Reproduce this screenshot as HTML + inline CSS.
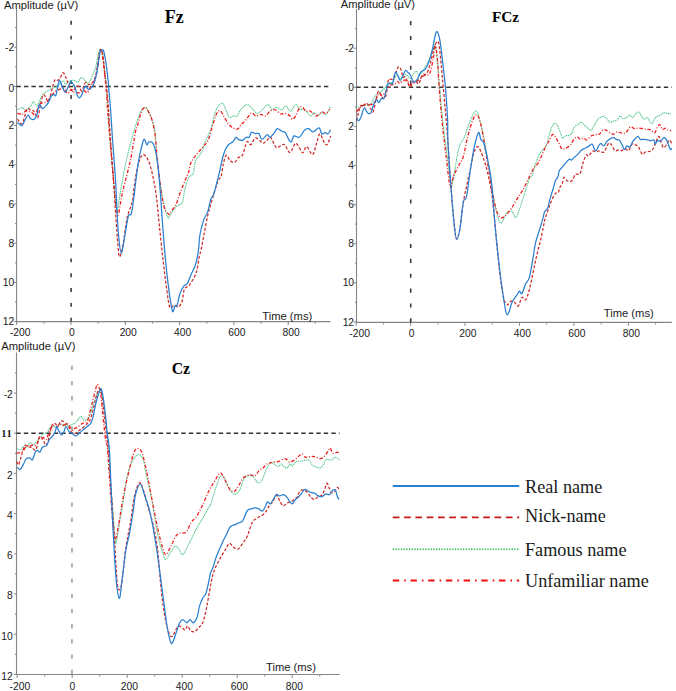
<!DOCTYPE html>
<html><head><meta charset="utf-8"><style>
html,body{margin:0;padding:0;background:#fff;width:676px;height:691px;overflow:hidden}
svg{display:block}
.tl{font-family:"Liberation Sans",sans-serif;font-size:10.3px;fill:#1a1a1a}
.amp{font-family:"Liberation Sans",sans-serif;font-size:11.2px;fill:#1a1a1a}
.ttl{font-family:"Liberation Serif",serif;font-weight:bold;fill:#000}
.leg{font-family:"Liberation Serif",serif;font-size:18.2px;fill:#1a1a1a}
</style></head><body>
<svg width="676" height="691" viewBox="0 0 676 691">
<rect width="676" height="691" fill="#fff"/>
<path d="M16.6 8.5V321.6H330.5" fill="none" stroke="#858585" stroke-width="1.1"/>
<path d="M15 27.6H16.6M14 47.2H16.6M15 66.8H16.6M14 86.4H16.6M15 106H16.6M14 125.6H16.6M15 145.2H16.6M14 164.8H16.6M15 184.4H16.6M14 204H16.6M15 223.6H16.6M14 243.2H16.6M15 262.8H16.6M14 282.4H16.6M15 302H16.6M14 321.6H16.6M16.7 321.6V325M43.85 321.6V323.6M71 321.6V325M98.15 321.6V323.6M125.3 321.6V325M152.45 321.6V323.6M179.6 321.6V325M206.75 321.6V323.6M233.9 321.6V325M261.05 321.6V323.6M288.2 321.6V325M315.35 321.6V323.6" stroke="#858585" stroke-width="1"/>
<text x="14.2" y="50.8" text-anchor="end" class="tl">-2</text>
<text x="14.2" y="92" text-anchor="end" class="tl">0</text>
<text x="14.2" y="129.2" text-anchor="end" class="tl">2</text>
<text x="14.2" y="168.4" text-anchor="end" class="tl">4</text>
<text x="14.2" y="207.6" text-anchor="end" class="tl">6</text>
<text x="14.2" y="246.8" text-anchor="end" class="tl">8</text>
<text x="14.2" y="286" text-anchor="end" class="tl">10</text>
<text x="14.2" y="325.2" text-anchor="end" class="tl">12</text>
<text x="20.2" y="336.4" text-anchor="middle" class="tl">-200</text>
<text x="71.97" y="336.4" text-anchor="middle" class="tl">0</text>
<text x="128.22" y="336.4" text-anchor="middle" class="tl">200</text>
<text x="182.52" y="336.4" text-anchor="middle" class="tl">400</text>
<text x="236.82" y="336.4" text-anchor="middle" class="tl">600</text>
<text x="291.12" y="336.4" text-anchor="middle" class="tl">800</text>
<path d="M16.4 86.4H330.5" stroke="#333" stroke-width="1.5" stroke-dasharray="4.4 3.1"/>
<path d="M71.1 20.8V321.6" stroke="#3a3a3a" stroke-width="1.6" stroke-dasharray="3.9 10.95"/>
<path d="M17.5 109.5C17.77 109.45 18.33 109.52 19.1 109.2C19.87 108.88 21.1 107.52 22.1 107.6C23.1 107.68 24 109.62 25.1 109.7C26.2 109.78 27.68 108.78 28.7 108.1C29.72 107.42 30.37 106.68 31.2 105.6C32.03 104.52 32.77 101.6 33.7 101.6C34.63 101.6 35.87 105.6 36.8 105.6C37.73 105.6 38.37 103.37 39.3 101.6C40.23 99.83 41.38 96.53 42.4 95C43.42 93.47 44.4 93.17 45.4 92.4C46.4 91.63 47.55 90.9 48.4 90.4C49.25 89.9 49.57 89.9 50.5 89.4C51.43 88.9 52.82 88 54 87.4C55.18 86.8 56.5 86.48 57.6 85.8C58.7 85.12 59.6 84.13 60.6 83.3C61.6 82.47 62.75 80.63 63.6 80.8C64.45 80.97 64.93 84.13 65.7 84.3C66.47 84.47 67.18 82.47 68.2 81.8C69.22 81.13 70.73 80.52 71.8 80.3C72.87 80.08 73.62 80.2 74.6 80.5C75.58 80.8 76.6 82.6 77.7 82.1C78.8 81.6 80.1 77.93 81.2 77.5C82.3 77.07 83.12 78.57 84.3 79.5C85.48 80.43 86.95 83.77 88.3 83.1C89.65 82.43 91.13 78.28 92.4 75.5C93.67 72.72 94.98 69.78 95.9 66.4C96.82 63.02 97.22 58 97.9 55.2C98.58 52.4 99.32 50.28 100 49.6C100.68 48.92 101.42 49.32 102 51.1C102.58 52.88 103 56.58 103.5 60.3C104 64.02 104.48 69.02 105 73.4C105.52 77.78 106.08 80.5 106.6 86.6C107.12 92.7 107.53 101.1 108.1 110C108.67 118.9 109.18 129.17 110 140C110.82 150.83 112.08 165 113 175C113.92 185 114.8 193.98 115.5 200C116.2 206.02 116.53 211.43 117.2 211.1C117.87 210.77 118.65 203.07 119.5 198C120.35 192.93 121.17 186.95 122.3 180.7C123.43 174.45 124.62 167.92 126.3 160.5C127.98 153.08 130.55 142.95 132.4 136.2C134.25 129.45 135.97 124.2 137.4 120C138.83 115.8 139.73 113.12 141 111C142.27 108.88 143.67 107.13 145 107.3C146.33 107.47 147.83 109.88 149 112C150.17 114.12 151 116.67 152 120C153 123.33 154.15 125.4 155 132C155.85 138.6 156 149.58 157.1 159.6C158.2 169.62 160.23 183.72 161.6 192.1C162.97 200.48 164.2 205.58 165.3 209.9C166.4 214.22 167.42 217.12 168.2 218C168.98 218.88 168.73 217.02 170 215.2C171.27 213.38 173.77 209.22 175.8 207.1C177.83 204.98 180.75 205.2 182.2 202.5C183.65 199.8 183.63 194.57 184.5 190.9C185.37 187.23 186.43 183 187.4 180.5C188.37 178 189.35 177.05 190.3 175.9C191.25 174.75 192.43 175.15 193.1 173.6C193.77 172.05 193.9 168.73 194.3 166.6C194.7 164.47 194.73 162.53 195.5 160.8C196.27 159.07 197.75 157.93 198.9 156.2C200.05 154.47 201.53 152.33 202.4 150.4C203.27 148.47 203.52 146.33 204.1 144.6C204.68 142.87 204.8 142.43 205.9 140C207 137.57 209.28 134.15 210.7 130C212.12 125.85 213.17 119.05 214.4 115.1C215.63 111.15 216.75 108.27 218.1 106.3C219.45 104.33 221.15 102.57 222.5 103.3C223.85 104.03 225.08 108.35 226.2 110.7C227.32 113.05 228.08 116.53 229.2 117.4C230.32 118.27 231.55 116.15 232.9 115.9C234.25 115.65 236.07 116.88 237.3 115.9C238.53 114.92 238.82 111.85 240.3 110C241.78 108.15 244.47 105.3 246.2 104.8C247.93 104.3 248.85 105.58 250.7 107C252.55 108.42 255.2 113.03 257.3 113.3C259.4 113.57 261.52 110.05 263.3 108.6C265.08 107.15 266.55 104.48 268 104.6C269.45 104.72 270.57 108.85 272 109.3C273.43 109.75 275.05 107.18 276.6 107.3C278.15 107.42 279.73 110.22 281.3 110C282.87 109.78 284.45 105.78 286 106C287.55 106.22 289.05 111.53 290.6 111.3C292.15 111.07 294.08 105.38 295.3 104.6C296.52 103.82 297.02 105.7 297.9 106.6C298.78 107.5 299.6 109.67 300.6 110C301.6 110.33 302.23 107.6 303.9 108.6C305.57 109.6 308.93 115.33 310.6 116C312.27 116.67 312.68 112.72 313.9 112.6C315.12 112.48 316.57 115.3 317.9 115.3C319.23 115.3 320.57 112.72 321.9 112.6C323.23 112.48 324.45 115.6 325.9 114.6C327.35 113.6 329.82 107.93 330.6 106.6" fill="none" stroke="#4cc487" stroke-width="1.05" stroke-dasharray="1.3 0.7" stroke-linejoin="round"/>
<path d="M17.5 113.5C17.77 113.53 18.33 113.5 19.1 113.7C19.87 113.9 20.93 115.2 22.1 114.7C23.27 114.2 24.83 111.2 26.1 110.7C27.37 110.2 28.68 111.37 29.7 111.7C30.72 112.03 31.27 112.2 32.2 112.7C33.13 113.2 34.12 116.05 35.3 114.7C36.48 113.35 37.95 106.62 39.3 104.6C40.65 102.58 42.05 103.1 43.4 102.6C44.75 102.1 46.13 102.78 47.4 101.6C48.67 100.42 49.98 96.87 51 95.5C52.02 94.13 52.57 94.25 53.5 93.4C54.43 92.55 55.58 91.07 56.6 90.4C57.62 89.73 58.43 89.73 59.6 89.4C60.77 89.07 62.25 87.73 63.6 88.4C64.95 89.07 66.43 93.23 67.7 93.4C68.97 93.57 70.13 89.6 71.2 89.4C72.27 89.2 72.6 91.65 74.1 92.2C75.6 92.75 78.5 92.95 80.2 92.7C81.9 92.45 83.12 90.7 84.3 90.7C85.48 90.7 86.12 93.72 87.3 92.7C88.48 91.68 90.05 86.97 91.4 84.6C92.75 82.23 94.23 82.22 95.4 78.5C96.57 74.78 97.55 67.03 98.4 62.3C99.25 57.57 99.82 50.95 100.5 50.1C101.18 49.25 101.83 53.32 102.5 57.2C103.17 61.08 103.92 68.33 104.5 73.4C105.08 78.47 105.48 81.5 106 87.6C106.52 93.7 106.93 101.27 107.6 110C108.27 118.73 109.02 128.33 110 140C110.98 151.67 112.5 169.17 113.5 180C114.5 190.83 115.22 199.15 116 205C116.78 210.85 117.45 215.43 118.2 215.1C118.95 214.77 119.65 207.38 120.5 203C121.35 198.62 121.65 195.88 123.3 188.8C124.95 181.72 128.38 169.95 130.4 160.5C132.42 151.05 134.23 137.83 135.4 132.1C136.57 126.37 136.47 129.28 137.4 126.1C138.33 122.92 139.73 116.13 141 113C142.27 109.87 143.67 107.3 145 107.3C146.33 107.3 147.83 110.88 149 113C150.17 115.12 151 116.38 152 120C153 123.62 154.08 128.03 155 134.7C155.92 141.37 156.5 150.78 157.5 160C158.5 169.22 159.83 181.93 161 190C162.17 198.07 163.17 204.35 164.5 208.4C165.83 212.45 168.08 213.55 169 214.3C169.92 215.05 168.87 214.48 170 212.9C171.13 211.32 174.07 208.27 175.8 204.8C177.53 201.33 178.87 196.15 180.4 192.1C181.93 188.05 183.65 183.78 185 180.5C186.35 177.22 187.53 175.3 188.5 172.4C189.47 169.5 189.83 165.6 190.8 163.1C191.77 160.6 192.95 159.32 194.3 157.4C195.65 155.48 197.45 153.35 198.9 151.6C200.35 149.85 201.45 148.83 203 146.9C204.55 144.97 206.67 143.32 208.2 140C209.73 136.68 210.8 131.38 212.2 127C213.6 122.62 215.25 116.42 216.6 113.7C217.95 110.98 219.07 110.22 220.3 110.7C221.53 111.18 222.63 114.38 224 116.6C225.37 118.82 227.02 122.15 228.5 124C229.98 125.85 231.43 126.83 232.9 127.7C234.37 128.57 235.95 129.68 237.3 129.2C238.65 128.72 239.52 126.4 241 124.8C242.48 123.2 244.47 121.58 246.2 119.6C247.93 117.62 249.8 113.52 251.4 112.9C253 112.28 254.2 115.65 255.8 115.9C257.4 116.15 259.4 114.4 261 114.4C262.6 114.4 263.8 116.52 265.4 115.9C267 115.28 268.87 111.68 270.6 110.7C272.33 109.72 274.13 109.45 275.8 110C277.47 110.55 279.02 113.45 280.6 114C282.18 114.55 283.73 112.97 285.3 113.3C286.87 113.63 288.78 115 290 116C291.22 117 291.62 119.42 292.6 119.3C293.58 119.18 294.78 117.18 295.9 115.3C297.02 113.42 298.18 109.33 299.3 108C300.42 106.67 301.5 106.75 302.6 107.3C303.7 107.85 304.78 110.75 305.9 111.3C307.02 111.85 308.08 110.27 309.3 110.6C310.52 110.93 311.98 112.4 313.2 113.3C314.42 114.2 315.15 116.22 316.6 116C318.05 115.78 320.35 112.45 321.9 112C323.45 111.55 324.57 113.75 325.9 113.3C327.23 112.85 329.23 109.97 329.9 109.3" fill="none" stroke="#f01e1e" stroke-width="1.3" stroke-dasharray="3.5 1.8 1 1.8" stroke-linejoin="round"/>
<path d="M17.5 119C17.77 119.38 18.33 120.5 19.1 121.3C19.87 122.1 21.18 124.55 22.1 123.8C23.02 123.05 23.75 119.33 24.6 116.8C25.45 114.27 26.27 109.78 27.2 108.6C28.13 107.42 29.2 109.35 30.2 109.7C31.2 110.05 32.35 110.03 33.2 110.7C34.05 111.37 34.53 112.52 35.3 113.7C36.07 114.88 36.97 119.15 37.8 117.8C38.63 116.45 39.45 109.32 40.3 105.6C41.15 101.88 42.05 97.02 42.9 95.5C43.75 93.98 44.57 95.48 45.4 96.5C46.23 97.52 47.13 101.43 47.9 101.6C48.67 101.77 49.23 99.87 50 97.5C50.77 95.13 51.67 90.35 52.5 87.4C53.33 84.45 54.15 80.98 55 79.8C55.85 78.62 56.75 80.57 57.6 80.3C58.45 80.03 59.18 79.47 60.1 78.2C61.02 76.93 62.17 72.87 63.1 72.7C64.03 72.53 65.05 75.9 65.7 77.2C66.35 78.5 66.35 78.77 67 80.5C67.65 82.23 68.58 85.82 69.6 87.6C70.62 89.38 72.02 91.37 73.1 91.2C74.18 91.03 75.08 87.37 76.1 86.6C77.12 85.83 78.27 85.92 79.2 86.6C80.13 87.28 80.68 91.37 81.7 90.7C82.72 90.03 84.12 83.62 85.3 82.6C86.48 81.58 87.62 84.6 88.8 84.6C89.98 84.6 91.3 83.95 92.4 82.6C93.5 81.25 94.57 79.2 95.4 76.5C96.23 73.8 96.63 70.8 97.4 66.4C98.17 62 99.15 52.3 100 50.1C100.85 47.9 101.83 50.67 102.5 53.2C103.17 55.73 103.5 60.75 104 65.3C104.5 69.85 104.98 75.93 105.5 80.5C106.02 85.07 106.58 87.78 107.1 92.7C107.62 97.62 108.03 102.28 108.6 110C109.17 117.72 109.68 127.33 110.5 139C111.32 150.67 112.63 167.37 113.5 180C114.37 192.63 114.97 204.07 115.7 214.8C116.43 225.53 117.27 237.4 117.9 244.4C118.53 251.4 118.63 256.8 119.5 256.8C120.37 256.8 121.88 250.67 123.1 244.4C124.32 238.13 125.57 225.37 126.8 219.2C128.03 213.03 129.52 210.6 130.5 207.4C131.48 204.2 132.08 203.53 132.7 200C133.32 196.47 133.33 191.95 134.2 186.2C135.07 180.45 136.55 170.68 137.9 165.5C139.25 160.32 140.95 156.58 142.3 155.1C143.65 153.62 144.77 155.12 146 156.6C147.23 158.08 148.47 160.3 149.7 164C150.93 167.7 152.28 173.37 153.4 178.8C154.52 184.23 155.42 188.9 156.4 196.6C157.38 204.3 158.2 214.5 159.3 225C160.4 235.5 161.77 248.9 163 259.6C164.23 270.3 165.6 281.32 166.7 289.2C167.8 297.08 168.62 304.07 169.6 306.9C170.58 309.73 171.62 306.45 172.6 306.2C173.58 305.95 174.52 305.28 175.5 305.4C176.48 305.52 177.38 307.63 178.5 306.9C179.62 306.17 181.22 303.95 182.2 301C183.18 298.05 183.17 291.92 184.4 289.2C185.63 286.48 187.63 287.42 189.6 284.7C191.57 281.98 194.6 277.58 196.2 272.9C197.8 268.22 198.38 260.42 199.2 256.6C200.02 252.78 200.25 253.95 201.1 250C201.95 246.05 203.22 238.57 204.3 232.9C205.38 227.23 206.52 220.77 207.6 216C208.68 211.23 209.62 208.43 210.8 204.3C211.98 200.17 213.5 195.12 214.7 191.2C215.9 187.28 216.9 183.4 218 180.8C219.1 178.2 220.42 178.4 221.3 175.6C222.18 172.8 222.48 167.42 223.3 164C224.12 160.58 225.1 155.72 226.2 155.1C227.3 154.48 228.53 159.07 229.9 160.3C231.27 161.53 232.92 163 234.4 162.5C235.88 162 237.45 158.53 238.8 157.3C240.15 156.07 241.13 157.68 242.5 155.1C243.87 152.52 245.63 143.53 247 141.8C248.37 140.07 249.35 145.32 250.7 144.7C252.05 144.08 253.63 138.83 255.1 138.1C256.57 137.37 258.13 139.43 259.5 140.3C260.87 141.17 262 143.37 263.3 143.3C264.6 143.23 266.08 140.9 267.3 139.9C268.52 138.9 269.15 136.07 270.6 137.3C272.05 138.53 274.33 145.87 276 147.3C277.67 148.73 279.17 146.35 280.6 145.9C282.03 145.45 283.03 143.48 284.6 144.6C286.17 145.72 288.12 152.82 290 152.6C291.88 152.38 293.8 143.3 295.9 143.3C298 143.3 300.82 152.05 302.6 152.6C304.38 153.15 304.93 146.27 306.6 146.6C308.27 146.93 310.93 155.15 312.6 154.6C314.27 154.05 315.38 146.75 316.6 143.3C317.82 139.85 318.68 134.13 319.9 133.9C321.12 133.67 322.68 140.12 323.9 141.9C325.12 143.68 326.08 145.6 327.2 144.6C328.32 143.6 330.03 137.35 330.6 135.9" fill="none" stroke="#cf2a2a" stroke-width="1.25" stroke-dasharray="3 1.8" stroke-linejoin="round"/>
<path d="M17.5 122.5C17.77 122.72 18.33 123.32 19.1 123.8C19.87 124.28 21.1 126.07 22.1 125.4C23.1 124.73 24.08 121.5 25.1 119.8C26.12 118.1 27.27 115.37 28.2 115.2C29.13 115.03 29.68 118.12 30.7 118.8C31.72 119.48 33.28 119.9 34.3 119.3C35.32 118.7 35.97 117.65 36.8 115.2C37.63 112.75 38.37 105.7 39.3 104.6C40.23 103.5 41.38 108.35 42.4 108.6C43.42 108.85 44.4 107.1 45.4 106.1C46.4 105.1 47.47 104.2 48.4 102.6C49.33 101 50.15 97.85 51 96.5C51.85 95.15 52.67 94.75 53.5 94.5C54.33 94.25 55.07 97.28 56 95C56.93 92.72 58.08 82.23 59.1 80.8C60.12 79.37 61.08 84.47 62.1 86.4C63.12 88.33 64.27 92.15 65.2 92.4C66.13 92.65 66.78 89.67 67.7 87.9C68.62 86.13 69.77 82.4 70.7 81.8C71.63 81.2 72.57 83.33 73.3 84.3C74.03 85.27 74.45 85.78 75.1 87.6C75.75 89.42 76.43 93.5 77.2 95.2C77.97 96.9 78.87 98.05 79.7 97.8C80.53 97.55 81.35 95.57 82.2 93.7C83.05 91.83 84.03 87.62 84.8 86.6C85.57 85.58 86.13 87.08 86.8 87.6C87.47 88.12 88.03 89.7 88.8 89.7C89.57 89.7 90.55 88.62 91.4 87.6C92.25 86.58 93.07 85.78 93.9 83.6C94.73 81.42 95.65 78.05 96.4 74.5C97.15 70.95 97.8 66.02 98.4 62.3C99 58.58 99.48 54.23 100 52.2C100.52 50.17 100.92 50.37 101.5 50.1C102.08 49.83 102.92 49.42 103.5 50.6C104.08 51.78 104.48 54.4 105 57.2C105.52 60 106.08 63.52 106.6 67.4C107.12 71.28 107.68 76.28 108.1 80.5C108.52 84.72 108.68 87.78 109.1 92.7C109.52 97.62 110.03 102.28 110.6 110C111.17 117.72 111.68 127.33 112.5 139C113.32 150.67 114.72 167.37 115.5 180C116.28 192.63 116.67 205.3 117.2 214.8C117.73 224.3 118.02 230.53 118.7 237C119.38 243.47 120.32 253.6 121.3 253.6C122.28 253.6 123.43 243.22 124.6 237C125.77 230.78 127.2 220.13 128.3 216.3C129.4 212.47 130.33 216.72 131.2 214C132.07 211.28 132.5 207.33 133.5 200C134.5 192.67 136.22 177.23 137.2 170C138.18 162.77 138.3 161.67 139.4 156.6C140.5 151.53 142.57 141.57 143.8 139.6C145.03 137.63 145.93 144.43 146.8 144.8C147.67 145.17 147.9 141.93 149 141.8C150.1 141.67 152.05 141.03 153.4 144C154.75 146.97 155.98 152.07 157.1 159.6C158.22 167.13 159.12 177.47 160.1 189.2C161.08 200.93 162.03 217.53 163 230C163.97 242.47 164.8 253.15 165.9 264C167 274.85 168.48 287.2 169.6 295.1C170.72 303 171.73 309.55 172.6 311.4C173.47 313.25 174.07 307.2 174.8 306.2C175.53 305.2 176.13 307.5 177 305.4C177.87 303.3 178.88 296.8 180 293.6C181.12 290.4 182.47 287.92 183.7 286.2C184.93 284.48 186.17 285.27 187.4 283.3C188.63 281.33 189.75 277.48 191.1 274.4C192.45 271.32 194.27 268.87 195.5 264.8C196.73 260.73 197.78 254.88 198.5 250C199.22 245.12 198.93 240.52 199.8 235.5C200.67 230.48 202.4 223.8 203.7 219.9C205 216 206.42 215.57 207.6 212.1C208.78 208.63 209.83 201.92 210.8 199.1C211.77 196.28 212.32 198.25 213.4 195.2C214.48 192.15 216.22 184.93 217.3 180.8C218.38 176.67 219.03 174.2 219.9 170.4C220.77 166.6 221.57 161.53 222.5 158C223.43 154.47 224.5 151.42 225.5 149.2C226.5 146.98 227.27 145.93 228.5 144.7C229.73 143.47 231.67 143.03 232.9 141.8C234.13 140.57 234.92 137.67 235.9 137.3C236.88 136.93 237.7 139.1 238.8 139.6C239.9 140.1 241.27 140.68 242.5 140.3C243.73 139.92 245.08 137.8 246.2 137.3C247.32 136.8 248.33 138.15 249.2 137.3C250.07 136.45 250.42 132.82 251.4 132.2C252.38 131.58 253.87 133.37 255.1 133.6C256.33 133.83 257.65 132.65 258.8 133.6C259.95 134.55 260.58 139.13 262 139.3C263.42 139.47 265.97 134.93 267.3 134.6C268.63 134.27 268.88 137.52 270 137.3C271.12 137.08 272.78 134.75 274 133.3C275.22 131.85 275.97 128.93 277.3 128.6C278.63 128.27 280.67 130.63 282 131.3C283.33 131.97 284.2 131.27 285.3 132.6C286.4 133.93 287.6 137.75 288.6 139.3C289.6 140.85 290.42 142.47 291.3 141.9C292.18 141.33 292.57 136.67 293.9 135.9C295.23 135.13 297.52 138.28 299.3 137.3C301.08 136.32 303.05 131.45 304.6 130C306.15 128.55 307.27 128.28 308.6 128.6C309.93 128.92 311.5 131.57 312.6 131.9C313.7 132.23 314.1 131.27 315.2 130.6C316.3 129.93 318.08 127.35 319.2 127.9C320.32 128.45 320.9 133.12 321.9 133.9C322.9 134.68 324.2 132.6 325.2 132.6C326.2 132.6 327 134.35 327.9 133.9C328.8 133.45 330.15 130.57 330.6 129.9" fill="none" stroke="#2a7fd0" stroke-width="1.25" stroke-linejoin="round"/>
<text x="4" y="9" class="amp">Amplitude (µV)</text><text x="262.3" y="319.7" class="amp">Time (ms)</text><text x="164.8" y="22.9" class="ttl" font-size="18">Fz</text>
<path d="M356.5 9.2V322.4H671.8" fill="none" stroke="#858585" stroke-width="1.1"/>
<path d="M354.9 28.65H356.5M353.9 48.2H356.5M354.9 67.75H356.5M353.9 87.3H356.5M354.9 106.85H356.5M353.9 126.4H356.5M354.9 145.95H356.5M353.9 165.5H356.5M354.9 185.05H356.5M353.9 204.6H356.5M354.9 224.15H356.5M353.9 243.7H356.5M354.9 263.25H356.5M353.9 282.8H356.5M354.9 302.35H356.5M353.9 321.9H356.5M356.16 322.4V325.8M383.38 322.4V324.4M410.6 322.4V325.8M437.82 322.4V324.4M465.04 322.4V325.8M492.26 322.4V324.4M519.48 322.4V325.8M546.7 322.4V324.4M573.92 322.4V325.8M601.14 322.4V324.4M628.36 322.4V325.8M655.58 322.4V324.4" stroke="#858585" stroke-width="1"/>
<text x="354.1" y="51.8" text-anchor="end" class="tl">-2</text>
<text x="354.1" y="90.9" text-anchor="end" class="tl">0</text>
<text x="354.1" y="130" text-anchor="end" class="tl">2</text>
<text x="354.1" y="169.1" text-anchor="end" class="tl">4</text>
<text x="354.1" y="208.2" text-anchor="end" class="tl">6</text>
<text x="354.1" y="247.3" text-anchor="end" class="tl">8</text>
<text x="354.1" y="286.4" text-anchor="end" class="tl">10</text>
<text x="354.1" y="325.5" text-anchor="end" class="tl">12</text>
<text x="359.66" y="337.2" text-anchor="middle" class="tl">-200</text>
<text x="411.57" y="337.2" text-anchor="middle" class="tl">0</text>
<text x="467.96" y="337.2" text-anchor="middle" class="tl">200</text>
<text x="522.4" y="337.2" text-anchor="middle" class="tl">400</text>
<text x="576.84" y="337.2" text-anchor="middle" class="tl">600</text>
<text x="631.28" y="337.2" text-anchor="middle" class="tl">800</text>
<path d="M356.3 87.3H671.8" stroke="#333" stroke-width="1.5" stroke-dasharray="4.4 3.1"/>
<path d="M410.7 21.1V322.4" stroke="#3a3a3a" stroke-width="1.6" stroke-dasharray="4.1 10.76"/>
<path d="M356.5 105.6C356.93 105.93 358.17 107.43 359.1 107.6C360.03 107.77 361.1 107.1 362.1 106.6C363.1 106.1 364.08 104.85 365.1 104.6C366.12 104.35 367.1 105.43 368.2 105.1C369.3 104.77 370.52 104.2 371.7 102.6C372.88 101 374.2 97.03 375.3 95.5C376.4 93.97 377.12 94.25 378.3 93.4C379.48 92.55 381.22 91.4 382.4 90.4C383.58 89.4 384.4 88.58 385.4 87.4C386.4 86.22 387.22 84.15 388.4 83.3C389.58 82.45 391.32 83.4 392.5 82.3C393.68 81.2 394.65 77.88 395.5 76.7C396.35 75.52 396.83 74.87 397.6 75.2C398.37 75.53 399.27 78.62 400.1 78.7C400.93 78.78 401.67 76.45 402.6 75.7C403.53 74.95 404.68 73.95 405.7 74.2C406.72 74.45 407.85 76.6 408.7 77.2C409.55 77.8 409.62 78.78 410.8 77.8C411.98 76.82 414.35 71.78 415.8 71.3C417.25 70.82 418.17 75.25 419.5 74.9C420.83 74.55 422.37 71.37 423.8 69.2C425.23 67.03 426.65 64.8 428.1 61.9C429.55 59 431.28 54.57 432.5 51.8C433.72 49.03 434.57 43.37 435.4 45.3C436.23 47.23 436.78 56.3 437.5 63.4C438.22 70.5 438.85 78.48 439.7 87.9C440.55 97.32 441.38 108.83 442.6 119.9C443.82 130.97 445.73 144.22 447 154.3C448.27 164.38 449.48 174.95 450.2 180.4C450.92 185.85 450.57 188.45 451.3 187C452.03 185.55 453.33 178.23 454.6 171.7C455.87 165.17 457.28 153.58 458.9 147.8C460.52 142.02 462.48 141.35 464.3 137C466.12 132.65 467.8 126.05 469.8 121.7C471.8 117.35 474.48 110.53 476.3 110.9C478.12 111.27 479.25 118.47 480.7 123.9C482.15 129.33 483.57 135.88 485 143.5C486.43 151.12 487.85 160.55 489.3 169.6C490.75 178.65 492.25 189.83 493.7 197.8C495.15 205.77 496.73 213.23 498 217.4C499.27 221.57 499.77 223.6 501.3 222.8C502.83 222 505.4 214.5 507.2 212.6C509 210.7 510.67 210.57 512.1 211.4C513.53 212.23 514.57 218 515.8 217.6C517.03 217.2 518.07 212.9 519.5 209C520.93 205.1 522.77 199.12 524.4 194.2C526.03 189.28 527.97 182.7 529.3 179.5C530.63 176.3 531.5 177.25 532.4 175C533.3 172.75 533.62 169.27 534.7 166C535.78 162.73 537.52 158.17 538.9 155.4C540.28 152.63 541.72 151.18 543 149.4C544.28 147.62 545.52 147.25 546.6 144.7C547.68 142.15 548.42 137.45 549.5 134.1C550.58 130.75 551.92 126.28 553.1 124.6C554.28 122.92 555.52 123.02 556.6 124C557.68 124.98 558.62 128.13 559.6 130.5C560.58 132.87 561.52 137.32 562.5 138.2C563.48 139.08 564.4 136.3 565.5 135.8C566.6 135.3 568.02 135.68 569.1 135.2C570.18 134.72 571.12 134.27 572 132.9C572.88 131.53 573.42 128.38 574.4 127C575.38 125.62 576.72 125.4 577.9 124.6C579.08 123.8 580.42 122.1 581.5 122.2C582.58 122.3 583.32 124.22 584.4 125.2C585.48 126.18 586.92 127.22 588 128.1C589.08 128.98 589.92 130.88 590.9 130.5C591.88 130.12 592.8 127.57 593.9 125.8C595 124.03 596.55 121.18 597.5 119.9C598.45 118.62 598.67 118.7 599.6 118.1C600.53 117.5 601.92 116.2 603.1 116.3C604.28 116.4 605.62 117.72 606.7 118.7C607.78 119.68 608.42 121.82 609.6 122.2C610.78 122.58 612.52 121.38 613.8 121C615.08 120.62 616.22 120.68 617.3 119.9C618.38 119.12 619.32 116.5 620.3 116.3C621.28 116.1 622.12 118.5 623.2 118.7C624.28 118.9 625.72 118.1 626.8 117.5C627.88 116.9 628.72 115.1 629.7 115.1C630.68 115.1 631.72 117.7 632.7 117.5C633.68 117.3 634.52 114.78 635.6 113.9C636.68 113.02 638.2 111.8 639.2 112.2C640.2 112.6 640.72 115.12 641.6 116.3C642.48 117.48 643.52 119.1 644.5 119.3C645.48 119.5 646.62 117.12 647.5 117.5C648.38 117.88 649.02 120.62 649.8 121.6C650.58 122.58 651.4 123.88 652.2 123.4C653 122.92 653.72 119.88 654.6 118.7C655.48 117.52 656.52 116.9 657.5 116.3C658.48 115.7 659.5 115.68 660.5 115.1C661.5 114.52 662.42 113.1 663.5 112.8C664.58 112.5 665.73 113.12 667 113.3C668.27 113.48 670.42 113.8 671.1 113.9" fill="none" stroke="#4cc487" stroke-width="1.05" stroke-dasharray="1.3 0.7" stroke-linejoin="round"/>
<path d="M356.5 111.7C356.93 111.18 358.17 109.62 359.1 108.6C360.03 107.58 361.1 106.18 362.1 105.6C363.1 105.02 364.08 105.43 365.1 105.1C366.12 104.77 367.18 103.68 368.2 103.6C369.22 103.52 370.02 105.12 371.2 104.6C372.38 104.08 373.95 102.37 375.3 100.5C376.65 98.63 378.28 94.23 379.3 93.4C380.32 92.57 380.55 95.5 381.4 95.5C382.25 95.5 383.4 94.42 384.4 93.4C385.4 92.38 386.38 90.75 387.4 89.4C388.42 88.05 389.32 86.15 390.5 85.3C391.68 84.45 393.32 84.97 394.5 84.3C395.68 83.63 396.75 81.47 397.6 81.3C398.45 81.13 398.6 83.47 399.6 83.3C400.6 83.13 402.25 80.63 403.6 80.3C404.95 79.97 406.62 80.5 407.7 81.3C408.78 82.1 408.87 84.95 410.1 85.1C411.33 85.25 413.53 83.17 415.1 82.2C416.67 81.23 418.05 80.38 419.5 79.3C420.95 78.22 422.12 76.67 423.8 75.7C425.48 74.73 428.03 76.28 429.6 73.5C431.17 70.72 432.23 63.58 433.2 59C434.17 54.42 434.68 45.75 435.4 46C436.12 46.25 436.9 53.98 437.5 60.5C438.1 67.02 438.27 75.2 439 85.1C439.73 95 440.75 108.37 441.9 119.9C443.05 131.43 444.52 143.12 445.9 154.3C447.28 165.48 448.93 183.37 450.2 187C451.47 190.63 452.05 179.73 453.5 176.1C454.95 172.47 457.27 168.47 458.9 165.2C460.53 161.93 461.85 161.2 463.3 156.5C464.75 151.8 465.98 143.15 467.6 137C469.22 130.85 471.37 123.23 473 119.6C474.63 115.97 475.95 113.75 477.4 115.2C478.85 116.65 480.07 120.68 481.7 128.3C483.33 135.92 485.57 151.12 487.2 160.9C488.83 170.68 490.05 179.03 491.5 187C492.95 194.97 494.45 203.63 495.9 208.7C497.35 213.77 498.73 216.13 500.2 217.4C501.67 218.67 502.92 217.7 504.7 216.3C506.48 214.9 508.85 211.87 510.9 209C512.95 206.13 514.95 202.38 517 199.1C519.05 195.82 521.15 192.98 523.2 189.3C525.25 185.62 527.57 180.48 529.3 177C531.03 173.52 532.2 170.63 533.6 168.4C535 166.17 536.33 165.77 537.7 163.6C539.07 161.43 540.52 158.15 541.8 155.4C543.08 152.65 544.22 149.47 545.4 147.1C546.58 144.73 547.72 143.28 548.9 141.2C550.08 139.12 551.42 135.3 552.5 134.6C553.58 133.9 554.42 135.72 555.4 137C556.38 138.28 557.4 140.42 558.4 142.3C559.4 144.18 560.42 147.22 561.4 148.3C562.38 149.38 563.22 149 564.3 148.8C565.38 148.6 566.82 147.78 567.9 147.1C568.98 146.42 569.82 145.98 570.8 144.7C571.78 143.42 572.72 140.68 573.8 139.4C574.88 138.12 576.22 137 577.3 137C578.38 137 579.22 139.2 580.3 139.4C581.38 139.6 582.72 138.1 583.8 138.2C584.88 138.3 585.7 140.3 586.8 140C587.9 139.7 589.22 137.2 590.4 136.4C591.58 135.6 592.72 135.58 593.9 135.2C595.08 134.82 596.55 134.28 597.5 134.1C598.45 133.92 598.67 134.8 599.6 134.1C600.53 133.4 601.92 130.5 603.1 129.9C604.28 129.3 605.52 130 606.7 130.5C607.88 131 609.02 132.3 610.2 132.9C611.38 133.5 612.62 134.3 613.8 134.1C614.98 133.9 616.12 131.9 617.3 131.7C618.48 131.5 619.52 132.7 620.9 132.9C622.28 133.1 624.03 133.88 625.6 132.9C627.17 131.92 628.82 127.7 630.3 127C631.78 126.3 633.12 128.52 634.5 128.7C635.88 128.88 637.13 128.1 638.6 128.1C640.07 128.1 641.92 128.5 643.3 128.7C644.68 128.9 645.62 129.1 646.9 129.3C648.18 129.5 649.72 129.3 651 129.9C652.28 130.5 653.52 133.38 654.6 132.9C655.68 132.42 656.62 128.38 657.5 127C658.38 125.62 659.1 124.22 659.9 124.6C660.7 124.98 661.32 128.72 662.3 129.3C663.28 129.88 664.82 127.9 665.8 128.1C666.78 128.3 667.32 130.1 668.2 130.5C669.08 130.9 670.62 130.5 671.1 130.5" fill="none" stroke="#f01e1e" stroke-width="1.3" stroke-dasharray="3.5 1.8 1 1.8" stroke-linejoin="round"/>
<path d="M356.5 120.5C356.83 119.2 357.82 115.18 358.5 112.7C359.18 110.22 359.83 106.62 360.6 105.6C361.37 104.58 362.27 106.93 363.1 106.6C363.93 106.27 364.75 103.93 365.6 103.6C366.45 103.27 367.35 103.77 368.2 104.6C369.05 105.43 369.87 107.42 370.7 108.6C371.53 109.78 372.35 113.05 373.2 111.7C374.05 110.35 374.95 103.88 375.8 100.5C376.65 97.12 377.47 92.4 378.3 91.4C379.13 90.4 379.95 93.32 380.8 94.5C381.65 95.68 382.55 98.33 383.4 98.5C384.25 98.67 385.07 98.53 385.9 95.5C386.73 92.47 387.55 83 388.4 80.3C389.25 77.6 390.15 79.57 391 79.3C391.85 79.03 392.67 79.88 393.5 78.7C394.33 77.52 395.15 74.22 396 72.2C396.85 70.18 397.75 66.95 398.6 66.6C399.45 66.25 400.35 68.33 401.1 70.1C401.85 71.87 402.42 76.1 403.1 77.2C403.78 78.3 404.43 75.85 405.2 76.7C405.97 77.55 406.88 80.55 407.7 82.3C408.52 84.05 408.98 87.47 410.1 87.2C411.22 86.93 412.97 81.3 414.4 80.7C415.83 80.1 417.38 84.57 418.7 83.6C420.02 82.63 420.97 76.58 422.3 74.9C423.63 73.22 425.37 75.42 426.7 73.5C428.03 71.58 429.1 67.5 430.3 63.4C431.5 59.3 432.82 52.52 433.9 48.9C434.98 45.28 435.95 42.42 436.8 41.7C437.65 40.98 438.28 40.98 439 44.6C439.72 48.22 440.38 56.18 441.1 63.4C441.82 70.62 442.45 78.48 443.3 87.9C444.15 97.32 445.42 110.63 446.2 119.9C446.98 129.17 447.15 131.6 448 143.5C448.85 155.4 450.2 177.17 451.3 191.3C452.4 205.43 453.7 220.33 454.6 228.3C455.5 236.27 455.8 239.1 456.7 239.1C457.6 239.1 458.9 234.45 460 228.3C461.1 222.15 461.67 211.63 463.3 202.2C464.93 192.77 468 180.03 469.8 171.7C471.6 163.37 472.83 156.37 474.1 152.2C475.37 148.03 476.3 146.88 477.4 146.7C478.5 146.52 479.43 148.38 480.7 151.1C481.97 153.82 483.57 158.12 485 163C486.43 167.88 488.05 174.38 489.3 180.4C490.55 186.42 491.37 189.83 492.5 199.1C493.63 208.37 494.88 223.72 496.1 236C497.32 248.28 498.57 262.57 499.8 272.8C501.03 283.03 502.27 292.07 503.5 297.4C504.73 302.73 505.97 304.18 507.2 304.8C508.43 305.42 509.67 301.52 510.9 301.1C512.13 300.68 513.38 301.48 514.6 302.3C515.82 303.12 516.98 306.82 518.2 306C519.42 305.18 520.67 298.43 521.9 297.4C523.13 296.37 524.37 301.03 525.6 299.8C526.83 298.57 528.07 294.5 529.3 290C530.53 285.5 531.77 278.53 533 272.8C534.23 267.07 535.47 260.92 536.7 255.6C537.93 250.28 539.18 246.22 540.4 240.9C541.62 235.58 543.22 227.37 544 223.7C544.78 220.03 544.42 221.22 545.1 218.9C545.78 216.58 547.1 212.67 548.1 209.8C549.1 206.93 549.92 204.4 551.1 201.7C552.28 199 554.02 195.12 555.2 193.6C556.38 192.08 557.43 193.62 558.2 192.6C558.97 191.58 559.12 189.03 559.8 187.5C560.48 185.97 561.63 185.08 562.3 183.4C562.97 181.72 563.03 177.9 563.8 177.4C564.57 176.9 565.97 179.73 566.9 180.4C567.83 181.07 568.48 181.4 569.4 181.4C570.32 181.4 571.38 181.58 572.4 180.4C573.42 179.22 574.23 175.4 575.5 174.3C576.77 173.2 578.82 175.48 580 173.8C581.18 172.12 581.58 167.32 582.6 164.2C583.62 161.08 585.1 156.45 586.1 155.1C587.1 153.75 587.5 156.78 588.6 156.1C589.7 155.42 591.52 151.68 592.7 151C593.88 150.32 594.68 152 595.7 152C596.72 152 597.92 151.03 598.8 151C599.68 150.97 600.08 151.67 601 151.8C601.92 151.93 603.07 153.18 604.3 151.8C605.53 150.42 607.22 144.68 608.4 143.5C609.58 142.32 610.32 143.52 611.4 144.7C612.48 145.88 613.72 149.72 614.9 150.6C616.08 151.48 617.42 150 618.5 150C619.58 150 620.32 150.8 621.4 150.6C622.48 150.4 623.82 148.8 625 148.8C626.18 148.8 627.32 151.38 628.5 150.6C629.68 149.82 631 145.08 632.1 144.1C633.2 143.12 634.02 144.2 635.1 144.7C636.18 145.2 637.42 145.52 638.6 147.1C639.78 148.68 641.02 153.42 642.2 154.2C643.38 154.98 644.33 152.3 645.7 151.8C647.07 151.3 649.12 151.78 650.4 151.2C651.68 150.62 652.5 149.78 653.4 148.3C654.3 146.82 654.92 144.28 655.8 142.3C656.68 140.32 657.82 136.4 658.7 136.4C659.58 136.4 660.3 140.42 661.1 142.3C661.9 144.18 662.62 147.3 663.5 147.7C664.38 148.1 665.42 145.98 666.4 144.7C667.38 143.42 668.52 140.2 669.4 140C670.28 139.8 671.32 142.92 671.7 143.5" fill="none" stroke="#cf2a2a" stroke-width="1.25" stroke-dasharray="3 1.8" stroke-linejoin="round"/>
<path d="M356.5 117.8C356.83 118.3 357.73 120.97 358.5 120.8C359.27 120.63 360.17 118.92 361.1 116.8C362.03 114.68 363.17 108.95 364.1 108.1C365.03 107.25 365.93 110.77 366.7 111.7C367.47 112.63 367.95 113.62 368.7 113.7C369.45 113.78 370.37 113.72 371.2 112.2C372.03 110.68 372.85 106.72 373.7 104.6C374.55 102.48 375.45 99.83 376.3 99.5C377.15 99.17 377.95 102.77 378.8 102.6C379.65 102.43 380.55 99.18 381.4 98.5C382.25 97.82 383.15 99.68 383.9 98.5C384.65 97.32 385.23 93.77 385.9 91.4C386.57 89.03 387.13 85.65 387.9 84.3C388.67 82.95 389.73 83.38 390.5 83.3C391.27 83.22 391.92 84.82 392.5 83.8C393.08 82.78 393.5 79.13 394 77.2C394.5 75.27 394.9 72.53 395.5 72.2C396.1 71.87 396.83 73.85 397.6 75.2C398.37 76.55 399.27 80.05 400.1 80.3C400.93 80.55 401.75 78.32 402.6 76.7C403.45 75.08 404.35 71.35 405.2 70.6C406.05 69.85 406.87 71.52 407.7 72.2C408.53 72.88 409.2 73.03 410.2 74.7C411.2 76.37 412.52 81.43 413.7 82.2C414.88 82.97 416.1 81 417.3 79.3C418.5 77.6 419.58 73.68 420.9 72C422.22 70.32 423.87 70.88 425.2 69.2C426.53 67.52 427.68 65.28 428.9 61.9C430.12 58.52 431.3 53.83 432.5 48.9C433.7 43.97 435.02 34.47 436.1 32.3C437.18 30.13 438.17 33.13 439 35.9C439.83 38.67 440.38 43.6 441.1 48.9C441.82 54.2 442.57 61.2 443.3 67.7C444.03 74.2 444.78 79.2 445.5 87.9C446.22 96.6 447.18 110.63 447.6 119.9C448.02 129.17 447.38 131.6 448 143.5C448.62 155.4 450.2 177.17 451.3 191.3C452.4 205.43 453.7 220.33 454.6 228.3C455.5 236.27 455.8 239.1 456.7 239.1C457.6 239.1 458.9 234.45 460 228.3C461.1 222.15 462.22 207.47 463.3 202.2C464.38 196.93 465.42 201.42 466.5 196.7C467.58 191.98 468.53 182.05 469.8 173.9C471.07 165.75 472.65 154.68 474.1 147.8C475.55 140.92 477.4 134.05 478.5 132.6C479.6 131.15 479.8 137.28 480.7 139.1C481.6 140.92 482.63 139.52 483.9 143.5C485.17 147.48 487.03 156.48 488.3 163C489.57 169.52 490.4 172.48 491.5 182.6C492.6 192.72 493.72 210.72 494.9 223.7C496.08 236.68 497.37 249.45 498.6 260.5C499.83 271.55 501.07 281.4 502.3 290C503.53 298.6 504.98 308.2 506 312.1C507.02 316 507.38 315.03 508.4 313.4C509.42 311.77 510.67 305.38 512.1 302.3C513.53 299.22 515.77 296.75 517 294.9C518.23 293.05 518.68 291.4 519.5 291.2C520.32 291 520.88 294.92 521.9 293.7C522.92 292.48 524.37 286.57 525.6 283.9C526.83 281.23 528.07 282 529.3 277.7C530.53 273.4 531.98 263.83 533 258.1C534.02 252.37 534.38 247.8 535.4 243.3C536.42 238.8 537.87 235.18 539.1 231.1C540.33 227.02 541.88 222.02 542.8 218.8C543.72 215.58 543.8 213.55 544.6 211.8C545.4 210.05 546.68 210.5 547.6 208.3C548.52 206.1 549.17 201.9 550.1 198.6C551.03 195.3 552.27 191.62 553.2 188.5C554.13 185.38 554.95 181.75 555.7 179.9C556.45 178.05 557.1 178.92 557.7 177.4C558.3 175.88 558.53 172.5 559.3 170.8C560.07 169.1 561.12 168.63 562.3 167.2C563.48 165.77 565.22 163.55 566.4 162.2C567.58 160.85 568.57 159.45 569.4 159.1C570.23 158.75 570.55 160.43 571.4 160.1C572.25 159.77 573.4 158.1 574.5 157.1C575.6 156.1 576.93 155.18 578 154.1C579.07 153.02 579.93 151.48 580.9 150.6C581.87 149.72 582.92 149.28 583.8 148.8C584.68 148.32 585.3 148.18 586.2 147.7C587.1 147.22 588.22 146.5 589.2 145.9C590.18 145.3 591.22 143.52 592.1 144.1C592.98 144.68 593.8 148.32 594.5 149.4C595.2 150.48 595.72 150.98 596.3 150.6C596.88 150.22 597.27 148.28 598 147.1C598.73 145.92 599.75 143.7 600.7 143.5C601.65 143.3 602.7 146.2 603.7 145.9C604.7 145.6 605.62 142.88 606.7 141.7C607.78 140.52 609.02 139.48 610.2 138.8C611.38 138.12 612.82 137.5 613.8 137.6C614.78 137.7 615.22 139 616.1 139.4C616.98 139.8 618.22 139.32 619.1 140C619.98 140.68 620.52 141.93 621.4 143.5C622.28 145.07 623.5 149 624.4 149.4C625.3 149.8 625.92 146.28 626.8 145.9C627.68 145.52 628.72 147.8 629.7 147.1C630.68 146.4 631.8 143.08 632.7 141.7C633.6 140.32 634.22 139.68 635.1 138.8C635.98 137.92 637.12 136.3 638 136.4C638.88 136.5 639.32 138.9 640.4 139.4C641.48 139.9 643.22 139.3 644.5 139.4C645.78 139.5 647.02 139.8 648.1 140C649.18 140.2 650.02 140.6 651 140.6C651.98 140.6 653.3 139.42 654 140C654.7 140.58 654.62 144 655.2 144.1C655.78 144.2 656.62 141.08 657.5 140.6C658.38 140.12 659.42 141.7 660.5 141.2C661.58 140.7 662.92 137.7 664 137.6C665.08 137.5 666.2 139.22 667 140.6C667.8 141.98 668.2 144.43 668.8 145.9C669.4 147.37 670.12 149 670.6 149.4C671.08 149.8 671.52 148.48 671.7 148.3" fill="none" stroke="#2a7fd0" stroke-width="1.25" stroke-linejoin="round"/>
<text x="340.8" y="8.3" class="amp">Amplitude (µV)</text><text x="603.8" y="317.4" class="amp">Time (ms)</text><text x="491.9" y="21.5" class="ttl" font-size="15.3">FCz</text>
<path d="M16.5 352.5V674.5H339.6" fill="none" stroke="#858585" stroke-width="1.1"/>
<path d="M14.9 372.9H16.5M13.9 393H16.5M14.9 413.1H16.5M13.9 433.2H16.5M14.9 453.3H16.5M13.9 473.4H16.5M14.9 493.5H16.5M13.9 513.6H16.5M14.9 533.7H16.5M13.9 553.8H16.5M14.9 573.9H16.5M13.9 594H16.5M14.9 614.1H16.5M13.9 634.2H16.5M14.9 654.3H16.5M13.9 674.4H16.5M17.2 674.5V677.9M44.7 674.5V676.5M72.2 674.5V677.9M99.7 674.5V676.5M127.2 674.5V677.9M154.7 674.5V676.5M182.2 674.5V677.9M209.7 674.5V676.5M237.2 674.5V677.9M264.7 674.5V676.5M292.2 674.5V677.9M319.7 674.5V676.5" stroke="#858585" stroke-width="1"/>
<text x="12.8" y="398.4" text-anchor="end" class="tl">-2</text>
<text x="12.3" y="436.9" text-anchor="end" font-family="Liberation Serif" font-weight="bold" font-size="10.5" letter-spacing="0.6" fill="#1a1a1a">11</text>
<text x="12.8" y="478.8" text-anchor="end" class="tl">2</text>
<text x="12.8" y="519" text-anchor="end" class="tl">4</text>
<text x="12.8" y="559.2" text-anchor="end" class="tl">6</text>
<text x="12.8" y="599.4" text-anchor="end" class="tl">8</text>
<text x="12.8" y="639.6" text-anchor="end" class="tl">10</text>
<text x="12.8" y="679.8" text-anchor="end" class="tl">12</text>
<text x="19.9" y="690.2" text-anchor="middle" class="tl">-200</text>
<text x="72.37" y="690.2" text-anchor="middle" class="tl">0</text>
<text x="129.32" y="690.2" text-anchor="middle" class="tl">200</text>
<text x="184.32" y="690.2" text-anchor="middle" class="tl">400</text>
<text x="239.32" y="690.2" text-anchor="middle" class="tl">600</text>
<text x="294.32" y="690.2" text-anchor="middle" class="tl">800</text>
<path d="M16.3 433.2H339.6" stroke="#333" stroke-width="1.5" stroke-dasharray="4.4 3.1"/>
<path d="M71.95 365.7V674.5" stroke="#a0a0a0" stroke-width="1.6" stroke-dasharray="4.3 10.9"/>
<path d="M16.7 448.7C17.28 448.88 19.03 450.2 20.2 449.8C21.37 449.4 22.63 446.68 23.7 446.3C24.77 445.92 25.53 448.07 26.6 447.5C27.67 446.93 28.95 443.38 30.1 442.9C31.25 442.42 32.25 445 33.5 444.6C34.75 444.2 36.43 441.85 37.6 440.5C38.77 439.15 39.43 437.75 40.5 436.5C41.57 435.25 42.93 433.58 44 433C45.07 432.42 45.93 433.87 46.9 433C47.87 432.13 48.75 428.87 49.8 427.8C50.85 426.73 52.05 426.8 53.2 426.6C54.35 426.4 55.43 426.98 56.7 426.6C57.97 426.22 59.55 424.58 60.8 424.3C62.05 424.02 62.95 424.6 64.2 424.9C65.45 425.2 67.03 426.2 68.3 426.1C69.57 426 70.75 424.77 71.8 424.3C72.85 423.83 73.55 424.05 74.6 423.3C75.65 422.55 77.03 420.97 78.1 419.8C79.17 418.63 80.03 416.2 81 416.3C81.97 416.4 82.83 420 83.9 420.4C84.97 420.8 86.33 419.77 87.4 418.7C88.47 417.63 89.33 416.32 90.3 414C91.27 411.68 92.23 407.7 93.2 404.8C94.17 401.9 95.23 398.73 96.1 396.6C96.97 394.47 97.63 392.95 98.4 392C99.17 391.05 99.93 389.73 100.7 390.9C101.47 392.07 102.32 395.15 103 399C103.68 402.85 104.12 408.4 104.8 414C105.48 419.6 106.43 426.6 107.1 432.6C107.77 438.6 108.13 440.58 108.8 450C109.47 459.42 110.12 475.22 111.1 489.1C112.08 502.98 113.88 524.28 114.7 533.3C115.52 542.32 115.17 545.23 116 543.2C116.83 541.17 118.48 528.07 119.7 521.1C120.92 514.13 122.08 508.78 123.3 501.4C124.52 494.02 125.57 483.35 127 476.8C128.43 470.25 130.05 465.78 131.9 462.1C133.75 458.42 136.25 455.1 138.1 454.7C139.95 454.3 141.57 456.02 143 459.7C144.43 463.38 145.27 470.25 146.7 476.8C148.13 483.35 150.17 491.62 151.6 499C153.03 506.38 154.07 514.15 155.3 521.1C156.53 528.05 157.75 535.42 159 540.7C160.25 545.98 161.7 549.68 162.8 552.8C163.9 555.92 164.35 559.4 165.6 559.4C166.85 559.4 168.73 555 170.3 552.8C171.87 550.6 173.58 546.83 175 546.2C176.42 545.57 177.53 547.58 178.8 549C180.07 550.42 181.18 555.02 182.6 554.7C184.02 554.38 185.58 550.23 187.3 547.1C189.02 543.97 191.18 539.33 192.9 535.9C194.62 532.47 196.03 529.33 197.6 526.5C199.17 523.67 200.73 521.57 202.3 518.9C203.87 516.23 205.58 513 207 510.5C208.42 508 209.38 507.5 210.8 503.9C212.22 500.3 213.93 493.43 215.5 488.9C217.07 484.37 218.8 478.73 220.2 476.7C221.6 474.67 222.82 475.62 223.9 476.7C224.98 477.78 225.6 480.85 226.7 483.2C227.8 485.55 229.08 488.92 230.5 490.8C231.92 492.68 233.63 494.67 235.2 494.5C236.77 494.33 238.5 492.3 239.9 489.8C241.3 487.3 242.2 481.85 243.6 479.5C245 477.15 246.88 476.33 248.3 475.7C249.72 475.07 250.83 474.92 252.1 475.7C253.37 476.48 254.97 479.25 255.9 480.4C256.83 481.55 256.85 482.35 257.7 482.6C258.55 482.85 260 483 261 481.9C262 480.8 262.7 478.32 263.7 476C264.7 473.68 265.78 470.23 267 468C268.22 465.77 269.67 463.17 271 462.6C272.33 462.03 273.78 463.93 275 464.6C276.22 465.27 277.3 466.7 278.3 466.6C279.3 466.5 280.12 464.1 281 464C281.88 463.9 282.6 465.33 283.6 466C284.6 466.67 285.88 468.33 287 468C288.12 467.67 289.42 464.33 290.3 464C291.18 463.67 291.3 466.45 292.3 466C293.3 465.55 294.87 462.08 296.3 461.3C297.73 460.52 299.35 461.52 300.9 461.3C302.45 461.08 304.15 460.12 305.6 460C307.05 459.88 308.48 459.72 309.6 460.6C310.72 461.48 311.3 464.3 312.3 465.3C313.3 466.3 314.28 466.15 315.6 466.6C316.92 467.05 318.87 468.43 320.2 468C321.53 467.57 322.6 465.45 323.6 464C324.6 462.55 324.98 459.97 326.2 459.3C327.42 458.63 329.33 460.33 330.9 460C332.47 459.67 334.15 457.3 335.6 457.3C337.05 457.3 338.93 459.55 339.6 460" fill="none" stroke="#4cc487" stroke-width="1.05" stroke-dasharray="1.3 0.7" stroke-linejoin="round"/>
<path d="M16.7 453.3C17.18 453.2 18.53 453.08 19.6 452.7C20.67 452.32 22.03 452.07 23.1 451C24.17 449.93 25.03 447.08 26 446.3C26.97 445.52 27.83 446.48 28.9 446.3C29.97 446.12 31.23 445.38 32.4 445.2C33.57 445.02 34.65 446.37 35.9 445.2C37.15 444.03 38.65 439.47 39.9 438.2C41.15 436.93 42.33 437.4 43.4 437.6C44.47 437.8 45.23 440.65 46.3 439.4C47.37 438.15 48.65 432.42 49.8 430.1C50.95 427.78 52.05 425.98 53.2 425.5C54.35 425.02 55.53 427.4 56.7 427.2C57.87 427 59.03 424.58 60.2 424.3C61.37 424.02 62.45 425.6 63.7 425.5C64.95 425.4 66.35 422.93 67.7 423.7C69.05 424.47 70.83 429.2 71.8 430.1C72.77 431 72.45 429.65 73.5 429.1C74.55 428.55 76.57 427.77 78.1 426.8C79.63 425.83 81.15 424.27 82.7 423.3C84.25 422.33 86.03 423.52 87.4 421C88.77 418.48 89.93 411.87 90.9 408.2C91.87 404.53 92.43 402.08 93.2 399C93.97 395.92 94.83 392.12 95.5 389.7C96.17 387.28 96.62 384.88 97.2 384.5C97.78 384.12 98.42 385.95 99 387.4C99.58 388.85 100.13 389.35 100.7 393.2C101.27 397.05 101.82 404.72 102.4 410.5C102.98 416.28 103.62 422.68 104.2 427.9C104.78 433.12 105.33 438.12 105.9 441.8C106.47 445.48 106.73 440.07 107.6 450C108.47 459.93 109.92 486.68 111.1 501.4C112.28 516.12 113.48 534.2 114.7 538.3C115.92 542.4 116.97 532.97 118.4 526C119.83 519.03 121.67 505.1 123.3 496.5C124.93 487.9 126.55 481.37 128.2 474.4C129.85 467.43 131.77 459 133.2 454.7C134.63 450.4 135.37 449 136.8 448.6C138.23 448.2 140.15 448.42 141.8 452.3C143.45 456.18 144.87 463.3 146.7 471.9C148.53 480.5 150.97 494.48 152.8 503.9C154.63 513.32 156.27 521.85 157.7 528.4C159.13 534.95 160.08 538.82 161.4 543.2C162.72 547.58 163.95 554.35 165.6 554.7C167.25 555.05 169.57 548.43 171.3 545.3C173.03 542.17 174.43 537.95 176 535.9C177.57 533.85 178.98 533.63 180.7 533C182.42 532.37 184.58 533.82 186.3 532.1C188.02 530.38 189.27 525.37 191 522.7C192.73 520.03 194.82 518.92 196.7 516.1C198.58 513.28 200.27 510.02 202.3 505.8C204.33 501.58 206.87 494.87 208.9 490.8C210.93 486.73 212.62 484.38 214.5 481.4C216.38 478.42 218.48 473.22 220.2 472.9C221.92 472.58 223.25 476.83 224.8 479.5C226.35 482.17 227.93 486.87 229.5 488.9C231.07 490.93 232.63 492.33 234.2 491.7C235.77 491.07 237.33 487.45 238.9 485.1C240.47 482.75 241.72 479.32 243.6 477.6C245.48 475.88 248.3 475.07 250.2 474.8C252.1 474.53 253.53 476.7 255 476C256.47 475.3 257.67 471.93 259 470.6C260.33 469.27 261.67 469.1 263 468C264.33 466.9 265.67 464.9 267 464C268.33 463.1 269.67 462.93 271 462.6C272.33 462.27 273.67 462.22 275 462C276.33 461.78 277.33 461.87 279 461.3C280.67 460.73 283.23 458.48 285 458.6C286.77 458.72 288.05 461.77 289.6 462C291.15 462.23 292.75 461 294.3 460C295.85 459 297.57 457 298.9 456C300.23 455 301.18 453.78 302.3 454C303.42 454.22 304.27 456.87 305.6 457.3C306.93 457.73 308.85 456.72 310.3 456.6C311.75 456.48 312.65 456.27 314.3 456.6C315.95 456.93 318.43 458.7 320.2 458.6C321.97 458.5 323.57 457.32 324.9 456C326.23 454.68 327.32 452.03 328.2 450.7C329.08 449.37 329.42 447.57 330.2 448C330.98 448.43 331.9 452.53 332.9 453.3C333.9 454.07 335.2 452.82 336.2 452.6C337.2 452.38 338.45 452.1 338.9 452" fill="none" stroke="#f01e1e" stroke-width="1.3" stroke-dasharray="3.5 1.8 1 1.8" stroke-linejoin="round"/>
<path d="M16.7 461.4C17 461.98 17.82 465.48 18.5 464.9C19.18 464.32 20.03 460.42 20.8 457.9C21.57 455.38 22.33 451.92 23.1 449.8C23.87 447.68 24.53 445.68 25.4 445.2C26.27 444.72 27.23 446.52 28.3 446.9C29.37 447.28 30.53 447.02 31.8 447.5C33.07 447.98 34.65 451.53 35.9 449.8C37.15 448.07 38.15 438.83 39.3 437.1C40.45 435.37 41.63 438.05 42.8 439.4C43.97 440.75 45.15 445.97 46.3 445.2C47.45 444.43 48.73 438.18 49.7 434.8C50.67 431.42 51.22 426.75 52.1 424.9C52.98 423.05 54.03 423.6 55 423.7C55.97 423.8 56.85 425.97 57.9 425.5C58.95 425.03 60.15 421.38 61.3 420.9C62.45 420.42 63.63 421.73 64.8 422.6C65.97 423.47 67.13 424.47 68.3 426.1C69.47 427.73 70.55 431.23 71.8 432.4C73.05 433.57 74.55 433.47 75.8 433.1C77.05 432.73 78.15 431.07 79.3 430.2C80.45 429.33 81.55 428.87 82.7 427.9C83.85 426.93 85.03 425.55 86.2 424.4C87.37 423.25 88.63 423.12 89.7 421C90.77 418.88 91.73 414.8 92.6 411.7C93.47 408.6 94.13 405.48 94.9 402.4C95.67 399.32 96.43 395.42 97.2 393.2C97.97 390.98 98.82 389.3 99.5 389.1C100.18 388.9 100.72 389.58 101.3 392C101.88 394.42 102.42 398.97 103 403.6C103.58 408.23 104.22 414.58 104.8 419.8C105.38 425.02 105.93 429.87 106.5 434.9C107.07 439.93 107.43 440.97 108.2 450C108.97 459.03 110.02 473.57 111.1 489.1C112.18 504.63 113.68 527.63 114.7 543.2C115.72 558.77 116.37 574.73 117.2 582.5C118.03 590.27 118.88 590.22 119.7 589.8C120.52 589.38 121.08 586.95 122.1 580C123.12 573.05 124.37 557.92 125.8 548.1C127.23 538.28 129.27 529.7 130.7 521.1C132.13 512.5 132.97 502.85 134.4 496.5C135.83 490.15 137.87 484.23 139.3 483C140.73 481.77 141.57 485.22 143 489.1C144.43 492.98 146.27 500.57 147.9 506.3C149.53 512.03 151.22 516.53 152.8 523.5C154.38 530.47 155.97 536.72 157.4 548.1C158.83 559.48 160.08 580.02 161.4 591.8C162.72 603.58 163.98 611.77 165.3 618.8C166.62 625.83 168.1 631.08 169.3 634C170.5 636.92 171.43 636.97 172.5 636.3C173.57 635.63 174.63 631.72 175.7 630C176.77 628.28 177.72 626.27 178.9 626C180.08 625.73 181.75 627.73 182.8 628.4C183.85 629.07 184.4 630.4 185.2 630C186 629.6 186.67 625.87 187.6 626C188.53 626.13 189.6 629.87 190.8 630.8C192 631.73 193.48 632.13 194.8 631.6C196.12 631.07 197.38 629.07 198.7 627.6C200.02 626.13 201.5 625.58 202.7 622.8C203.9 620.02 204.97 615 205.9 610.9C206.83 606.8 207.37 603.23 208.3 598.2C209.23 593.17 210.45 585.48 211.5 580.7C212.55 575.92 213.15 573.22 214.6 569.5C216.05 565.78 218.33 561.82 220.2 558.4C222.07 554.98 224.25 551.5 225.8 549C227.35 546.5 228.25 543.72 229.5 543.4C230.75 543.08 231.88 546.17 233.3 547.1C234.72 548.03 236.43 549.62 238 549C239.57 548.38 241.13 545.58 242.7 543.4C244.27 541.22 245.83 539.35 247.4 535.9C248.97 532.45 250.68 525.53 252.1 522.7C253.52 519.87 254.87 519.82 255.9 518.9C256.93 517.98 257.23 517.82 258.3 517.2C259.37 516.58 261.07 516.08 262.3 515.2C263.53 514.32 264.48 513.57 265.7 511.9C266.92 510.23 268.38 506.97 269.6 505.2C270.82 503.43 271.88 502.95 273 501.3C274.12 499.65 275.2 495.42 276.3 495.3C277.4 495.18 278.48 498.83 279.6 500.6C280.72 502.37 281.77 505.47 283 505.9C284.23 506.33 285.78 503.87 287 503.2C288.22 502.53 289.2 502.45 290.3 501.9C291.4 501.35 292.38 500.78 293.6 499.9C294.82 499.02 296.6 498.03 297.6 496.6C298.6 495.17 298.6 492.42 299.6 491.3C300.6 490.18 302.27 489.68 303.6 489.9C304.93 490.12 306.38 491.37 307.6 492.6C308.82 493.83 309.78 496.18 310.9 497.3C312.02 498.42 313.18 499.3 314.3 499.3C315.42 499.3 316.38 497.97 317.6 497.3C318.82 496.63 320.5 496.42 321.6 495.3C322.7 494.18 323.32 492.6 324.2 490.6C325.08 488.6 326.12 483.85 326.9 483.3C327.68 482.75 328.12 485.75 328.9 487.3C329.68 488.85 330.6 491.93 331.6 492.6C332.6 493.27 333.9 492.18 334.9 491.3C335.9 490.42 336.82 487.3 337.6 487.3C338.38 487.3 339.27 490.63 339.6 491.3" fill="none" stroke="#cf2a2a" stroke-width="1.25" stroke-dasharray="3 1.8" stroke-linejoin="round"/>
<path d="M17.3 467.2C17.78 467.58 19.23 469.88 20.2 469.5C21.17 469.12 22.13 466.63 23.1 464.9C24.07 463.17 24.93 460.27 26 459.1C27.07 457.93 28.43 457.8 29.5 457.9C30.57 458 31.43 460.67 32.4 459.7C33.37 458.73 34.43 453.65 35.3 452.1C36.17 450.55 36.83 450.4 37.6 450.4C38.37 450.4 39.13 452.58 39.9 452.1C40.67 451.62 41.43 448.47 42.2 447.5C42.97 446.53 43.72 446.68 44.5 446.3C45.28 445.92 46.12 446.25 46.9 445.2C47.68 444.15 48.33 441.45 49.2 440C50.07 438.55 51.13 437.77 52.1 436.5C53.07 435.23 54.23 434.05 55 432.4C55.77 430.75 56.13 426.98 56.7 426.6C57.27 426.22 57.63 428.73 58.4 430.1C59.17 431.47 60.42 434.42 61.3 434.8C62.18 435.18 62.92 433.77 63.7 432.4C64.48 431.03 65.13 426.78 66 426.6C66.87 426.42 67.93 430.23 68.9 431.3C69.87 432.37 70.65 432.22 71.8 433C72.95 433.78 74.55 435.98 75.8 436C77.05 436.02 77.95 434.25 79.3 433.1C80.65 431.95 82.55 430.25 83.9 429.1C85.25 427.95 86.23 427.17 87.4 426.2C88.57 425.23 89.93 424.95 90.9 423.3C91.87 421.65 92.43 419.38 93.2 416.3C93.97 413.22 94.63 408.47 95.5 404.8C96.37 401.13 97.53 397.02 98.4 394.3C99.27 391.58 100.03 388.68 100.7 388.5C101.37 388.32 101.82 390.48 102.4 393.2C102.98 395.92 103.62 400.55 104.2 404.8C104.78 409.05 105.42 414.07 105.9 418.7C106.38 423.33 106.52 427.38 107.1 432.6C107.68 437.82 108.73 440.58 109.4 450C110.07 459.42 110.42 474.38 111.1 489.1C111.78 503.82 112.68 523.55 113.5 538.3C114.32 553.05 115.05 567.58 116 577.6C116.95 587.62 118.18 598 119.2 598.4C120.22 598.8 121 587.98 122.1 580C123.2 572.02 124.57 558.28 125.8 550.5C127.03 542.72 128.27 539.85 129.5 533.3C130.73 526.75 132.18 517.75 133.2 511.2C134.22 504.65 134.38 498.5 135.6 494C136.82 489.5 139.07 484.2 140.5 484.2C141.93 484.2 142.77 489.9 144.2 494C145.63 498.1 147.67 503.47 149.1 508.8C150.53 514.13 151.57 519.45 152.8 526C154.03 532.55 155.6 542.43 156.5 548.1C157.4 553.77 157.38 554.03 158.2 560C159.02 565.97 160.35 575.95 161.4 583.9C162.45 591.85 163.45 600.02 164.5 607.7C165.55 615.38 166.63 624.17 167.7 630C168.77 635.83 169.97 640.85 170.9 642.7C171.83 644.55 172.37 642.95 173.3 641.1C174.23 639.25 175.43 634.65 176.5 631.6C177.57 628.55 178.65 624.8 179.7 622.8C180.75 620.8 181.62 619.6 182.8 619.6C183.98 619.6 185.6 622.8 186.8 622.8C188 622.8 188.93 619.6 190 619.6C191.07 619.6 192.02 623.18 193.2 622.8C194.38 622.42 196.05 620.08 197.1 617.3C198.15 614.52 198.57 609.28 199.5 606.1C200.43 602.92 201.63 600.32 202.7 598.2C203.77 596.08 204.97 595.78 205.9 593.4C206.83 591.02 207.5 587.35 208.3 583.9C209.1 580.45 209.9 575.48 210.7 572.7C211.5 569.92 212.15 569.9 213.1 567.2C214.05 564.5 214.92 560.47 216.4 556.5C217.88 552.53 220.28 547.15 222 543.4C223.72 539.65 225.28 536.82 226.7 534C228.12 531.18 229.08 528.07 230.5 526.5C231.92 524.93 233.8 525.23 235.2 524.6C236.6 523.97 237.65 523.33 238.9 522.7C240.15 522.07 241.28 522.83 242.7 520.8C244.12 518.77 245.83 512.53 247.4 510.5C248.97 508.47 250.83 509.03 252.1 508.6C253.37 508.17 253.97 507.9 255 507.9C256.03 507.9 257.08 508.05 258.3 508.6C259.52 509.15 261.18 511.43 262.3 511.2C263.42 510.97 264.12 508.75 265 507.2C265.88 505.65 266.72 502.45 267.6 501.9C268.48 501.35 269.4 504.23 270.3 503.9C271.2 503.57 272 501.45 273 499.9C274 498.35 275.2 495.27 276.3 494.6C277.4 493.93 278.38 495.9 279.6 495.9C280.82 495.9 282.37 494.37 283.6 494.6C284.83 494.83 286 496.18 287 497.3C288 498.42 288.72 500.2 289.6 501.3C290.48 502.4 291.4 504.13 292.3 503.9C293.2 503.67 294 501 295 499.9C296 498.8 297.2 498.4 298.3 497.3C299.4 496.2 300.5 494.63 301.6 493.3C302.7 491.97 303.78 489.63 304.9 489.3C306.02 488.97 307.18 490.75 308.3 491.3C309.42 491.85 310.5 492.27 311.6 492.6C312.7 492.93 313.8 492.75 314.9 493.3C316 493.85 316.98 495.35 318.2 495.9C319.42 496.45 320.97 496.93 322.2 496.6C323.43 496.27 324.37 494.23 325.6 493.9C326.83 493.57 328.38 495.27 329.6 494.6C330.82 493.93 331.9 490.57 332.9 489.9C333.9 489.23 334.82 489.37 335.6 490.6C336.38 491.83 337 495.85 337.6 497.3C338.2 498.75 338.93 498.97 339.2 499.3" fill="none" stroke="#2a7fd0" stroke-width="1.25" stroke-linejoin="round"/>
<text x="1.2" y="350" class="amp">Amplitude (µV)</text><text x="266" y="671.3" class="amp">Time (ms)</text><text x="171.7" y="374.2" class="ttl" font-size="15.8">Cz</text>

<path d="M392.8 486H519.2" stroke="#2a7fd0" stroke-width="1.8"/>
<path d="M392.8 517.4H519.2" stroke="#c81a1a" stroke-width="1.9" stroke-dasharray="6.7 4.6"/>
<path d="M392.8 549.2H519.2" stroke="#22b84e" stroke-width="1.6" stroke-dasharray="1.3 1.4"/>
<path d="M392.8 580.5H519.2" stroke="#f01010" stroke-width="1.9" stroke-dasharray="6.4 5 1.6 4.7"/>
<text x="525" y="492.8" class="leg">Real name</text>
<text x="525" y="522.2" class="leg">Nick-name</text>
<text x="525" y="555.7" class="leg">Famous name</text>
<text x="525" y="586.8" class="leg">Unfamiliar name</text>

</svg>
</body></html>
